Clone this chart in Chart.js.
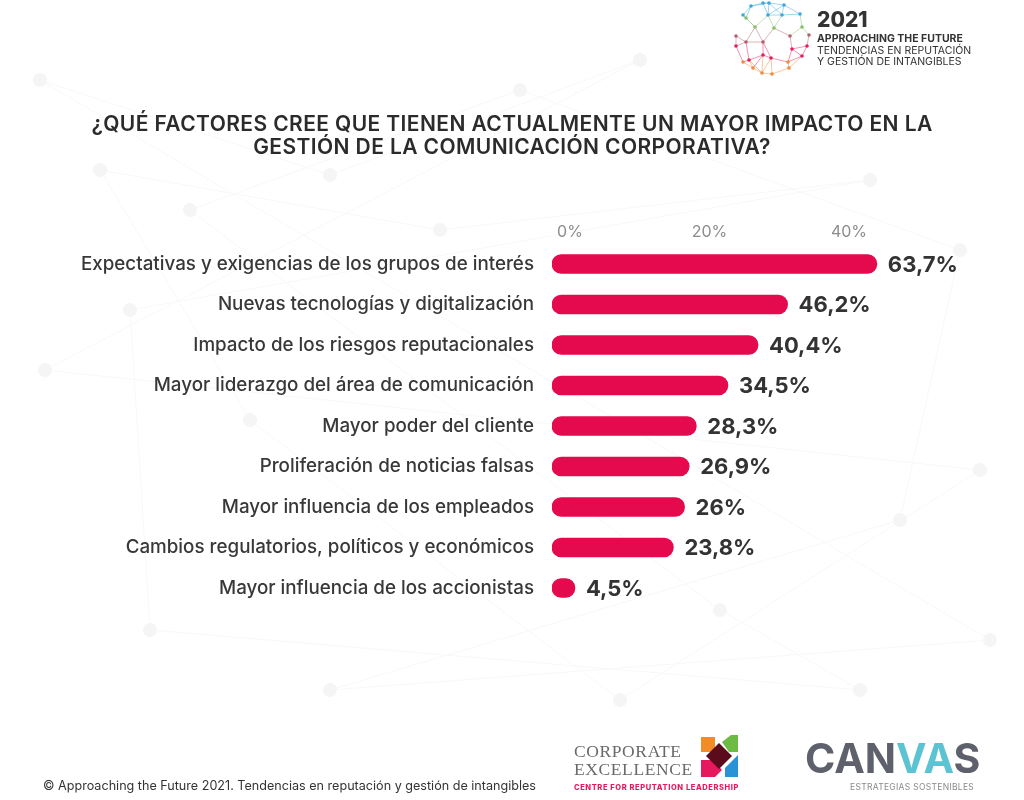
<!DOCTYPE html>
<html lang="es">
<head>
<meta charset="utf-8">
<script src="https://cdn.jsdelivr.net/npm/chart.js@4.4.1/dist/chart.umd.min.js"></script>
<style>
  html, body { margin: 0; padding: 0; background: #fff; }
  body { width: 1024px; height: 800px; position: relative; overflow: hidden; font-family: Inter, "Noto Sans", sans-serif; }
  #bg { position: absolute; left: 0; top: 0; }
  #chart { position: absolute; left: 0; top: 0; }
  .title { position: absolute; left: 0; top: 112px; width: 1024px; text-align: center; font-size: 21px; font-weight: 600; line-height: 23px; letter-spacing: 0.4px; color: #2b2b2b; }
  .brand { position: absolute; left: 817px; top: 9px; color: #333; }
  .brand .year { font-size: 21px; font-weight: 800; line-height: 22px; }
  .brand .name { font-size: 10.5px; font-weight: 700; line-height: 12px; margin-top: 2px; }
  .brand .sub { font-size: 10.5px; font-weight: 400; line-height: 11px; }
  .ce { position: absolute; left: 574px; top: 742px; font-family: "Liberation Serif", "DejaVu Serif", serif; color: #6a6a6a; font-size: 17.5px; line-height: 18px; letter-spacing: 0.6px; }
  .ce-sub { position: absolute; left: 574px; top: 783px; font-size: 7.5px; font-weight: 800; color: #e6195e; letter-spacing: 0.6px; }
  .canvas-logo { position: absolute; left: 805px; top: 735px; font-size: 41px; font-weight: 700; color: #5e606c; letter-spacing: 0px; line-height: 46px; }
  .canvas-logo span { color: #5cc3d3; }
  .canvas-sub { position: absolute; left: 850px; top: 782px; font-size: 8.5px; color: #8a8a8a; letter-spacing: 0.3px; }
  .footer { position: absolute; left: 43px; top: 778px; font-size: 12.6px; color: #333; }
</style>
</head>
<body>
<svg id="bg" width="1024" height="800"></svg>
<canvas id="chart" width="1024" height="800"></canvas>

<div class="title">¿QUÉ FACTORES CREE QUE TIENEN ACTUALMENTE UN MAYOR IMPACTO EN LA<br>GESTIÓN DE LA COMUNICACIÓN CORPORATIVA?</div>

<div class="brand">
  <div class="year">2021</div>
  <div class="name">APPROACHING THE FUTURE</div>
  <div class="sub">TENDENCIAS EN REPUTACIÓN</div>
  <div class="sub">Y GESTIÓN DE INTANGIBLES</div>
</div>

<div class="ce">CORPORATE<br>EXCELLENCE</div>
<div class="ce-sub">CENTRE FOR REPUTATION LEADERSHIP</div>
<div class="canvas-logo">CAN<span>VA</span>S</div>
<div class="canvas-sub">ESTRATEGIAS SOSTENIBLES</div>
<div class="footer">© Approaching the Future 2021. Tendencias en reputación y gestión de intangibles</div>

<script>
const categories = [
  'Expectativas y exigencias de los grupos de interés',
  'Nuevas tecnologías y digitalización',
  'Impacto de los riesgos reputacionales',
  'Mayor liderazgo del área de comunicación',
  'Mayor poder del cliente',
  'Proliferación de noticias falsas',
  'Mayor influencia de los empleados',
  'Cambios regulatorios, políticos y económicos',
  'Mayor influencia de los accionistas'
];
const values = [63.7, 46.2, 40.4, 34.5, 28.3, 26.9, 26, 23.8, 4.5];
const axisTicks = [0, 20, 40];

const FONT = 'Inter, "Noto Sans", sans-serif';

// decorative logos / background
function drawDecor() {
  const svg = document.getElementById('bg');
  const ns = 'http://www.w3.org/2000/svg';
  const add = (tag, attrs) => {
    const el = document.createElementNS(ns, tag);
    for (const k in attrs) el.setAttribute(k, attrs[k]);
    svg.appendChild(el);
    return el;
  };

  // faint network in background
  const faint = [[40,80],[100,170],[190,210],[330,175],[440,230],[520,90],[640,60],[870,180],[960,250],[45,370],[130,310],[900,520],[980,470],[150,630],[330,690],[620,700],[860,690],[990,640],[250,420],[720,610]];
  faint.forEach((p, i) => {
    const q = faint[(i + 3) % faint.length];
    add('line', { x1: p[0], y1: p[1], x2: q[0], y2: q[1], stroke: '#f8f8f8', 'stroke-width': 1 });
  });
  faint.forEach(p => add('circle', { cx: p[0], cy: p[1], r: 7, fill: '#f5f5f5' }));

  // sphere logo
  const nodes = [[751,6],[763,3],[769,3],[784,5],[743,15],[768,15],[782,15],[800,14],[746,18],[755,27],[774,28],[802,27],
    [736,36],[790,36],[809,35],[736,46],[746,42],[763,42],[807,46],[792,49],[763,55],[771,58],[802,56],[743,62],[749,60],
    [788,62],[762,73],[772,74],[789,68],[753,68]];
  const colorAt = y => y < 18 ? '#3ba7df' : y < 32 ? '#86c06a' : y < 45 ? '#b5616d' : y < 62 ? '#e61e5c' : '#f08a3c';
  for (let i = 0; i < nodes.length; i++) {
    for (let j = i + 1; j < nodes.length; j++) {
      const d = Math.hypot(nodes[i][0] - nodes[j][0], nodes[i][1] - nodes[j][1]);
      if (d < 19) add('line', { x1: nodes[i][0], y1: nodes[i][1], x2: nodes[j][0], y2: nodes[j][1], stroke: colorAt((nodes[i][1] + nodes[j][1]) / 2), 'stroke-width': 0.8, opacity: 0.6 });
    }
  }
  nodes.forEach(p => add('circle', { cx: p[0], cy: p[1], r: 1.8, fill: colorAt(p[1]) }));

  // corporate excellence mark
  add('polygon', { points: '701,737 715,737 715,752 701,752', fill: '#f28c28' });
  add('polygon', { points: '722,742 731,735 738,735 738,752 729,752', fill: '#6dbb45' });
  add('polygon', { points: '701,760 713,760 722,770 715,777 701,777', fill: '#e6195e' });
  add('polygon', { points: '725,768 738,755 738,777 725,777', fill: '#2a93d5' });
  add('polygon', { points: '719,743 732,756 719,769 706,756', fill: '#5b0c1c' });
}
drawDecor();

const valueLabels = {
  id: 'valueLabels',
  afterDatasetsDraw(chart) {
    const ctx = chart.ctx;
    const meta = chart.getDatasetMeta(0);
    ctx.save();
    ctx.font = '700 22px ' + FONT;
    ctx.fillStyle = '#333333';
    ctx.textBaseline = 'middle';
    meta.data.forEach((bar, i) => {
      const txt = String(values[i]).replace('.', ',') + '%';
      ctx.fillText(txt, bar.x + 11, bar.y + 1);
    });
    ctx.restore();
  }
};

new Chart(document.getElementById('chart'), {
  type: 'bar',
  data: {
    labels: categories,
    datasets: [{
      data: values,
      backgroundColor: '#e5094d',
      borderRadius: 10,
      borderSkipped: false,
      barThickness: 19,
      xAxisID: 'x',
      yAxisID: 'y'
    }]
  },
  options: {
    indexAxis: 'y',
    responsive: false,
    animation: false,
    layout: { padding: { left: 0, top: 200, right: 115, bottom: 191.75 } },
    plugins: {
      legend: { display: false },
      tooltip: { enabled: false }
    },
    scales: {
      x: { display: false, min: 0, max: 70 },
      xTop: {
        type: 'linear',
        position: 'top',
        min: -2.58,
        max: 48.6,
        grid: { display: false },
        border: { display: false },
        afterBuildTicks: axis => { axis.ticks = axisTicks.map(v => ({ value: v })); },
        afterFit: axis => { axis.height = 43.75; },
        ticks: {
          callback: v => v + '%',
          color: '#8c8c8c',
          font: { family: FONT, size: 16 },
          padding: -6,
          autoSkip: false,
          maxRotation: 0
        }
      },
      y: {
        grid: { display: false },
        border: { display: false },
        afterFit: axis => { axis.width = 552; },
        ticks: {
          color: '#383838',
          font: { family: FONT, size: 18.8, weight: '500' },
          padding: 10,
          autoSkip: false
        }
      }
    }
  },
  plugins: [valueLabels]
});
</script>
</body>
</html>
